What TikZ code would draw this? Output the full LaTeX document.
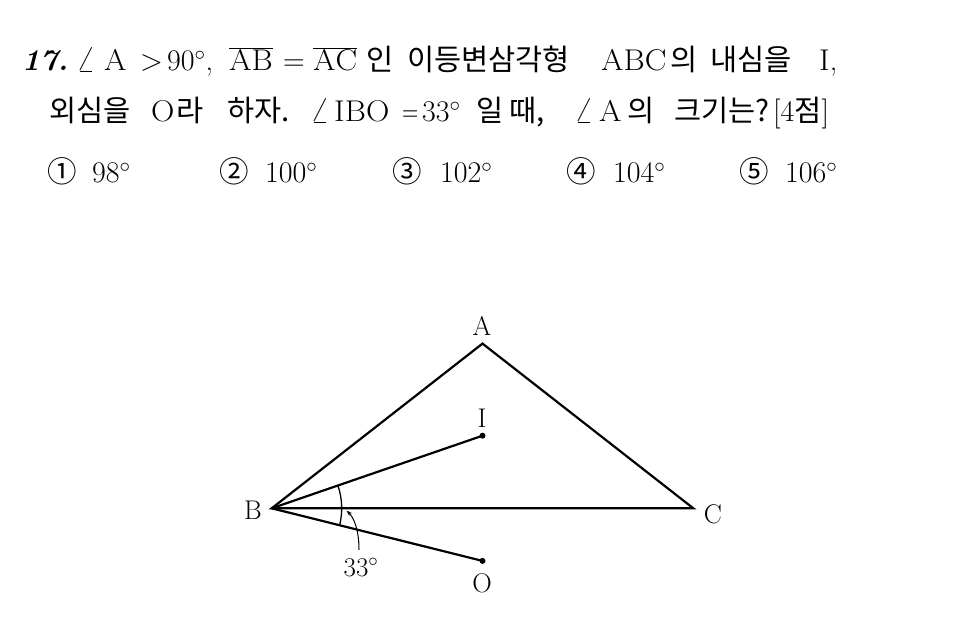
\documentclass[tikz,border=0pt]{standalone}
\usepackage{fix-cm}
\usepackage{fontspec}
\newfontfamily\kr{Noto Sans CJK KR}
\newcommand\Wide[1]{\scalebox{1.08}[1]{#1}}
\newcommand\Ang{\scalebox{1.2}{$\angle$}}
\usetikzlibrary{arrows.meta}
\begin{document}
\begin{tikzpicture}[x=1pt,y=-1pt,
  la/.style={anchor=base west,inner sep=0pt,font=\fontsize{30}{36}\selectfont},
  ko/.style={anchor=base west,inner sep=0pt,font=\kr\fontsize{29.5}{34}\selectfont},
  lbl/.style={inner sep=0pt,font=\fontsize{27}{32}\selectfont},
  edge/.style={line width=2.2pt,line join=miter},
  thin/.style={line width=1pt},
  dot/.style={circle,fill=black,inner sep=0pt,minimum size=6pt}]
\useasboundingbox (0,0) rectangle (953,644);
% line 1
\node[la] (n17) at (22,71) {\bfseries\itshape 17.};
\node[la] (a0) at (76,71) {\Ang};
\node[la] (a1) at (104,71) {\Wide{A}};
\node[la] (a2) at (140,71) {$>$};
\node[la] (a3) at (167,71) {$90^\circ$,};
\node[la] (a4) at (229,71) {\Wide{$\overline{\mathrm{AB}}$}};
\node[la] (a5) at (283,71) {$=$};
\node[la] (a6) at (313,71) {\Wide{$\overline{\mathrm{AC}}$}};
\node[ko] (k1) at (366,71) {인};
\node[ko] (k2) at (407,71) {이등변삼각형};
\node[la] (a7) at (601,71) {\Wide{ABC}};
\node[ko] (k3) at (670,71) {의};
\node[ko] (k4) at (710,71) {내심을};
\node[la] (a8) at (819,71) {\Wide{I},};
% line 2
\node[ko] (k5) at (49,122) {외심을};
\node[la] (b1) at (151,122) {\Wide{O}};
\node[ko] (k6) at (176,122) {라};
\node[ko] (k7) at (227,122) {하자.};
\node[la] (b2) at (310,122) {\Ang};
\node[la] (b2b) at (334,122) {\Wide{IBO}};
\node[la] (b3) at (402,122) {\scalebox{0.75}[1]{$=$}};
\node[la] (b4) at (422,122) {$33^\circ$};
\node[ko] (k8) at (476,122) {일};
\node[ko] (k9) at (509,122) {때,};
\node[la] (b5) at (574,122) {\Ang};
\node[la] (b5b) at (599,122) {\Wide{A}};
\node[ko] (k10) at (627,122) {의};
\node[ko] (k11) at (674,122) {크기는?};
\node[la] (b6) at (773,122) {[4{\kr\fontsize{29.5}{34}\selectfont 점}]};
% choices
\node[ko] (c1) at (47,183) {①};
\node[la] (v1) at (92,183) {$98^\circ$};
\node[ko] (c2) at (219,183) {②};
\node[la] (v2) at (265,183) {$100^\circ$};
\node[ko] (c3) at (392,183) {③};
\node[la] (v3) at (440,183) {$102^\circ$};
\node[ko] (c4) at (566,183) {④};
\node[la] (v4) at (613,183) {$104^\circ$};
\node[ko] (c5) at (739,183) {⑤};
\node[la] (v5) at (785,183) {$106^\circ$};
% figure
\coordinate (B) at (271.7,508.3);
\coordinate (C) at (693.3,508.3);
\coordinate (A) at (482.5,343.6);
\node[dot] (I) at (482.5,435.7) {};
\node[dot] (O) at (482.5,560.9) {};
\draw[edge] (B) -- (A) -- (C) -- cycle;
\draw[edge] (B) -- (I.center);
\draw[edge] (B) -- (O.center);
\draw[line width=1.3pt] ([shift={(-19:70)}]B) arc[start angle=-19,end angle=14.2,radius=70];
\node[lbl] (lA) at (482,326) {A};
\node[lbl] (lI) at (482,418) {I};
\node[lbl] (lB) at (253,510) {B};
\node[lbl] (lC) at (713,514) {C};
\node[lbl] (lO) at (482,583) {O};
\node[lbl] (l33) at (361,567) {$33^\circ$};
\coordinate (tail) at (359,550);
\coordinate (tip) at (346.5,510.5);
\draw[thin,-{Stealth[length=6pt,width=4pt]}] (tail) .. controls (359,530) and (354,518) .. (tip);
\end{tikzpicture}
\end{document}
